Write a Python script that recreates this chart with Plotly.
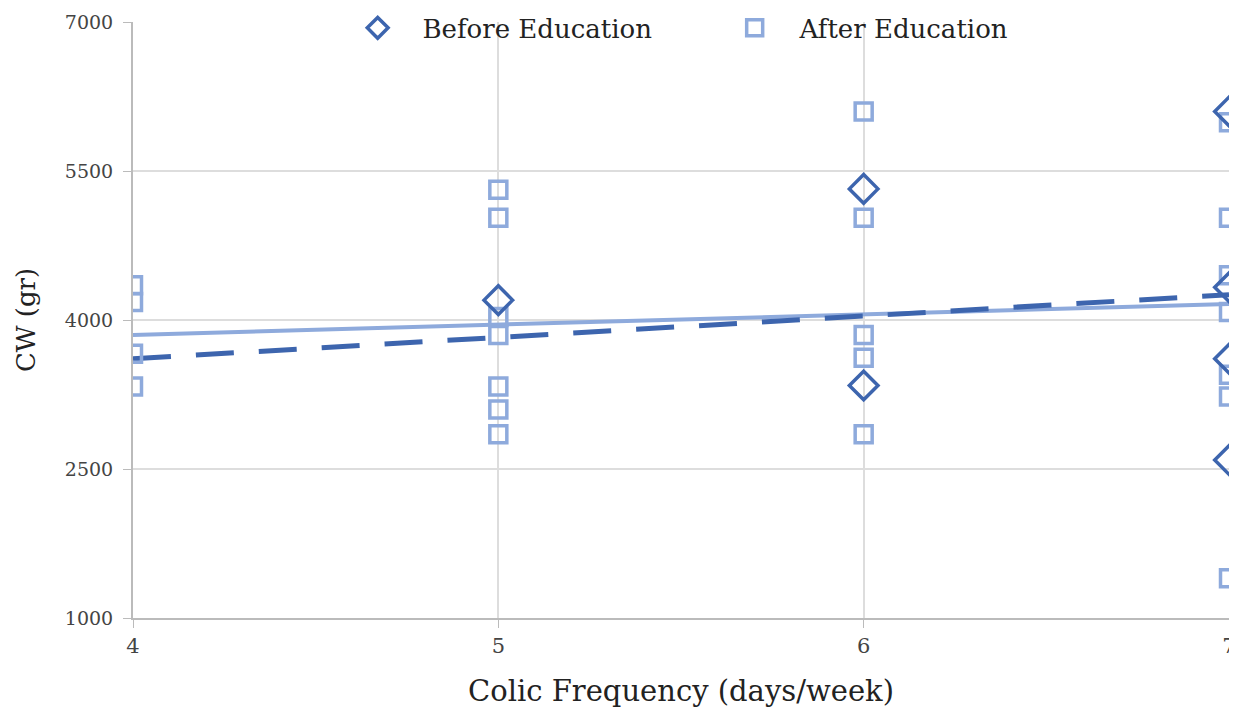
import plotly.graph_objects as go

# Data
before_x = [5, 6, 6, 7, 7, 7, 7]
before_y = [4200, 5320, 3340, 6100, 4330, 3610, 2590]

after_x = [4, 4, 4, 4,
           5, 5, 5, 5, 5, 5, 5,
           6, 6, 6, 6, 6,
           7, 7, 7, 7, 7, 7, 7]
after_y = [4350, 4180, 3660, 3330,
           5310, 5030, 4030, 3850, 3330, 3100, 2850,
           6100, 5030, 3850, 3620, 2850,
           5990, 5030, 4450, 4080, 3450, 3230, 1400]

trend_x = [4, 7]
before_trend = [3610, 4255]
after_trend = [3850, 4160]

x_ticks = [4, 5, 6, 7]
y_ticks = [1000, 2500, 4000, 5500, 7000]

DARK = "#3d65ae"
LIGHT = "#8eaadc"
FONT = "DejaVu Serif"

fig = go.Figure()

fig.add_trace(go.Scatter(
    x=trend_x, y=after_trend, mode="lines", showlegend=False,
    line=dict(color=LIGHT, width=4), hoverinfo="skip"))
fig.add_trace(go.Scatter(
    x=trend_x, y=before_trend, mode="lines", showlegend=False,
    line=dict(color=DARK, width=5, dash="38px,25px"), hoverinfo="skip"))

fig.add_trace(go.Scatter(
    x=after_x, y=after_y, mode="markers", name="\u00a0\u00a0\u00a0After Education",
    marker=dict(symbol="square-open", size=17, color=LIGHT,
                line=dict(width=3.5, color=LIGHT))))
fig.add_trace(go.Scatter(
    x=before_x, y=before_y, mode="markers", name="\u00a0\u00a0\u00a0Before Education",
    marker=dict(symbol="diamond-open", size=22, color=DARK,
                line=dict(width=3.5, color=DARK))))

# The page body has an 8px margin, so the figure is sized/offset to compensate
fig.update_layout(
    width=1229, height=700,
    margin=dict(l=125, r=8, t=14, b=90, autoexpand=False),
    paper_bgcolor="white", plot_bgcolor="white",
    font=dict(family=FONT, color="#222"),
    legend=dict(orientation="h", x=0.205, xanchor="left", y=0.99, yanchor="middle",
                bgcolor="rgba(0,0,0,0)", font=dict(size=26, family=FONT, color="#222"),
                traceorder="reversed", entrywidth=332),
    xaxis=dict(range=[4, 7], tickvals=x_ticks, showgrid=True, gridcolor="#dddddd",
               gridwidth=1.5, showline=True, linecolor="#bbbbbb", linewidth=2,
               ticks="outside", ticklen=8, tickcolor="#bbbbbb", zeroline=False,
               tickfont=dict(size=21, color="#444", family=FONT),
               title=dict(text="Colic Frequency (days/week)", font=dict(size=29, color="#222", family=FONT),
                          standoff=26)),
    yaxis=dict(range=[1000, 7000], tickvals=y_ticks, showgrid=True, gridcolor="#dddddd",
               gridwidth=1.5, showline=True, linecolor="#bbbbbb", linewidth=2,
               ticks="outside", ticklen=8, tickcolor="#bbbbbb", zeroline=False,
               ticklabelstandoff=6,
               tickfont=dict(size=19, color="#444", family=FONT),
               title=dict(text="CW (gr)", font=dict(size=26, color="#222", family=FONT),
                          standoff=22)),
)

fig.write_html("out.html")
